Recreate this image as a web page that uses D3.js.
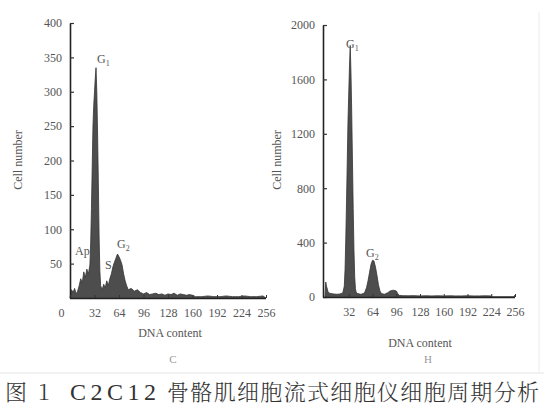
<!DOCTYPE html>
<html>
<head>
<meta charset="utf-8">
<script src="https://cdn.jsdelivr.net/npm/d3@7"></script>
<style>
  html, body { margin: 0; padding: 0; background: #fff; }
  svg text { font-family: "Liberation Serif", "DejaVu Serif", serif; fill: #444; }
</style>
</head>
<body>
<svg id="chart" width="544" height="408"></svg>
<script>
// panel C (left): channel -> cell count
const leftChannels = [0, 2, 4, 6, 8, 10, 12, 14, 16, 18, 20, 22, 24, 26, 27, 28, 29, 30, 31, 32, 33, 34, 35, 36, 37, 38, 39, 40, 42, 44, 46, 48, 50, 52, 54, 56, 58, 60, 62, 64, 66, 68, 70, 72, 74, 76, 80, 84, 88, 92, 96, 100, 104, 108, 112, 116, 120, 124, 128, 132, 136, 140, 144, 148, 152, 156, 160, 164, 172, 180, 188, 196, 204, 212, 220, 228, 236, 244, 252, 256];
const leftCounts   = [0, 12, 8, 14, 6, 10, 18, 28, 22, 38, 30, 42, 35, 48, 80, 130, 190, 250, 280, 300, 320, 335, 300, 240, 170, 90, 40, 18, 12, 20, 15, 25, 18, 28, 35, 45, 52, 58, 64, 60, 55, 48, 35, 25, 18, 12, 14, 10, 12, 8, 6, 8, 5, 6, 7, 5, 6, 4, 6, 5, 7, 4, 6, 5, 4, 5, 4, 2, 2, 3, 2, 2, 3, 2, 2, 3, 2, 2, 3, 0];

// panel H (right)
const rightChannels = [0, 1, 2, 4, 6, 8, 12, 16, 20, 24, 26, 27, 28, 29, 30, 31, 32, 33, 34, 35, 36, 37, 38, 39, 40, 41, 42, 44, 48, 52, 54, 56, 58, 60, 62, 64, 66, 68, 70, 72, 74, 76, 80, 84, 88, 92, 96, 98, 100, 104, 112, 120, 128, 136, 144, 152, 160, 168, 176, 184, 192, 200, 208, 216, 224, 226, 254, 256];
const rightCounts   = [0, 110, 80, 40, 28, 25, 22, 20, 22, 30, 80, 200, 420, 700, 1000, 1300, 1500, 1700, 1850, 1650, 1350, 1000, 650, 350, 150, 60, 35, 25, 20, 25, 40, 70, 120, 180, 240, 270, 265, 220, 160, 90, 45, 25, 20, 30, 45, 50, 45, 25, 12, 10, 9, 10, 8, 9, 8, 9, 8, 9, 8, 8, 9, 8, 8, 9, 8, 2, 2, 14];

const xTicks = [0, 32, 64, 96, 128, 160, 192, 224, 256];
const leftYTicks = [50, 100, 150, 200, 250, 300, 350, 400];
const rightYTicks = [0, 400, 800, 1200, 1600, 2000];

const svg = d3.select('#chart');

function panel(o){
  const g = svg.append('g');
  const x = d3.scaleLinear().domain([0, 256]).range(o.xr);
  const y = d3.scaleLinear().domain([0, o.ymax]).range(o.yr);
  const pts = o.ch.map((c, i) => [c, o.n[i]]);
  const area = d3.area().x(d => x(d[0])).y0(y(0)).y1(d => y(d[1]));
  const line = d3.line().x(d => x(d[0])).y(d => y(d[1]));
  g.append('path').attr('d', area(pts)).attr('fill', '#4d4d4d');
  g.append('path').attr('d', line(pts)).attr('fill', 'none').attr('stroke', '#333').attr('stroke-width', 0.8);

  const ya = g.append('g').attr('transform', `translate(${o.ax},0)`)
    .call(d3.axisLeft(y).tickValues(o.yt).tickFormat(d3.format('d')).tickSizeInner(-4).tickSizeOuter(0).tickPadding(8));
  ya.select('.domain').attr('stroke', '#222').attr('stroke-width', 1.6);
  ya.selectAll('.tick line').attr('stroke', '#333').attr('stroke-width', 1.2);
  ya.selectAll('text').attr('font-size', 12).style('fill', '#555');

  const xa = g.append('g').attr('transform', `translate(0,${y(0)})`)
    .call(d3.axisBottom(x).tickValues(o.xt).tickSizeInner(-3).tickSizeOuter(0).tickPadding(10));
  xa.select('.domain').attr('stroke', '#222').attr('stroke-width', 1.4)
    .attr('d', `M${o.ax},0.5H${x(256)}`);
  xa.selectAll('.tick line').attr('stroke', '#333');
  xa.selectAll('text').attr('font-size', 12).style('fill', '#555')
    .attr('dx', d => d === 0 ? -9 : 0);

  g.append('text').attr('transform', `translate(${o.yl[0]},${o.yl[1]}) rotate(-90)`)
    .attr('text-anchor', 'middle').attr('font-size', 12).style('fill', '#555').text('Cell number');
  g.append('text').attr('x', o.xl[0]).attr('y', o.xl[1])
    .attr('text-anchor', 'middle').attr('font-size', 12).style('fill', '#555').text('DNA content');
  g.append('text').attr('x', o.pl[0]).attr('y', o.pl[1])
    .attr('text-anchor', 'middle').attr('font-size', 11).style('fill', '#999').text(o.pl[2]);

  o.marks.forEach(m => {
    const t = g.append('text').attr('x', m[0]).attr('y', m[1]).attr('font-size', 12).style('fill', '#555');
    t.append('tspan').text(m[2]);
    if (m[3]) t.append('tspan').attr('font-size', 8).attr('dy', 3).text(m[3]);
  });
}

panel({
  ch: leftChannels, n: leftCounts, ymax: 400, xr: [70, 266], yr: [298, 23], ax: 70,
  yt: leftYTicks, xt: xTicks, yl: [22, 160], xl: [170, 337], pl: [173, 363, 'C'],
  marks: [[97, 63, 'G', '1'], [75, 255, 'Ap'], [105, 269, 'S'], [117, 248, 'G', '2']]
});
panel({
  ch: rightChannels, n: rightCounts, ymax: 2000, xr: [325, 515], yr: [297, 25], ax: 323,
  yt: rightYTicks, xt: xTicks.slice(1), yl: [281, 160], xl: [420, 347], pl: [428, 363, 'H'],
  marks: [[346, 48, 'G', '1'], [366, 257, 'G', '2']]
});

// faint frame lines from the scan
svg.append('line').attr('x1', 0).attr('x2', 544).attr('y1', 373).attr('y2', 373).attr('stroke', '#e4e4e4');
svg.append('line').attr('x1', 539).attr('x2', 539).attr('y1', 12).attr('y2', 373).attr('stroke', '#ececec');

// caption
const capStyle = t => t.attr('font-size', 22).attr('font-weight', 300).style('fill', '#333')
  .style('font-family', '"Noto Serif CJK SC", "Noto Sans CJK SC", sans-serif');
svg.append('text').attr('x', 5).attr('y', 400).text('图').call(capStyle);
svg.append('text').attr('x', 38).attr('y', 400).text('1').call(capStyle);
svg.append('text').attr('x', 70).attr('y', 400).text('C2C12')
  .attr('textLength', 86).attr('lengthAdjust', 'spacing').call(capStyle)
  .style('font-family', '"Liberation Serif", serif').attr('font-size', 24).attr('font-weight', 400);
svg.append('text').attr('x', 167).attr('y', 400).text('骨骼肌细胞流式细胞仪细胞周期分析')
  .attr('textLength', 372).call(capStyle);
</script>
</body>
</html>
